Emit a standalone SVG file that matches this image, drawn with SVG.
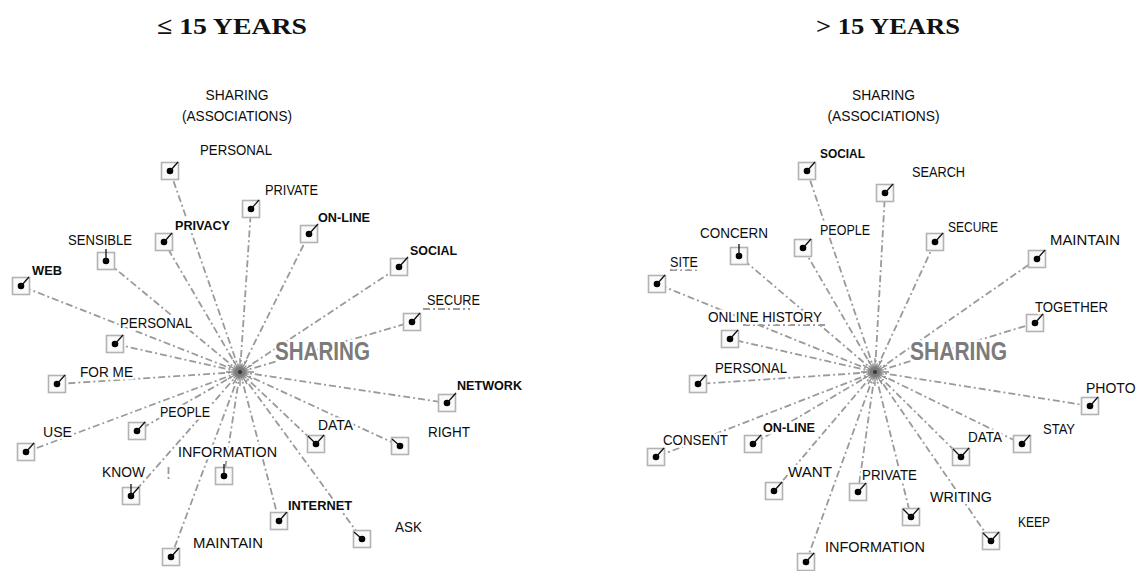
<svg xmlns="http://www.w3.org/2000/svg" xmlns:xlink="http://www.w3.org/1999/xlink" width="1139" height="571" viewBox="0 0 1139 571">
  <style>
    .title { font-family: "Liberation Serif", serif; font-weight: bold; font-size: 24px; fill: #111; }
    .lbl { font-family: "Liberation Sans", Arial, sans-serif; font-size: 14.5px; fill: #0d0d0d; stroke: #fff; stroke-width: 5; stroke-linejoin: round; paint-order: stroke; }
    .b { font-weight: bold; font-size: 13px; }
    .hdr { text-anchor: middle; stroke: none; }
    .big { font-family: "Liberation Sans", Arial, sans-serif; font-weight: bold; font-size: 25px; fill: #7b7b7b; stroke: #fff; stroke-width: 5; paint-order: stroke; }
    .edge { fill: none; stroke: #9a9a9a; stroke-width: 1.8; stroke-dasharray: 7 3 2 3; }
    .box { fill: #fafafa; stroke: #b3b3b3; stroke-width: 1.6; }
    .dot { fill: #000; }
    .tk { fill: none; stroke: #111; stroke-width: 1.3; }
    .ray { fill: none; stroke: #8a8a8a; stroke-width: 1.3; }
  </style>
  <defs>
    <g id="bx">
      <rect x="-8.5" y="-8.5" width="17" height="17" class="box"/>
      <circle r="3.3" class="dot"/>
    </g>
    <g id="hub">
      <path class="ray" d="M0 0L14 0M0 0L8.7 2.3M0 0L12.1 7M0 0L6.4 6.4M0 0L7 12.1M0 0L2.3 8.7M0 0L0 14M0 0L-2.3 8.7M0 0L-7 12.1M0 0L-6.4 6.4M0 0L-12.1 7M0 0L-8.7 2.3M0 0L-14 0M0 0L-8.7 -2.3M0 0L-12.1 -7M0 0L-6.4 -6.4M0 0L-7 -12.1M0 0L-2.3 -8.7M0 0L0 -14M0 0L2.3 -8.7M0 0L7 -12.1M0 0L6.4 -6.4M0 0L12.1 -7M0 0L8.7 -2.3"/>
      <circle r="5" fill="#777" opacity="0.8"/>
      <circle r="2" fill="#333"/>
    </g>
  </defs>

  <rect width="1139" height="571" fill="#fff"/>

  <!-- headings -->
  <text class="title" x="157" y="34" textLength="150" lengthAdjust="spacingAndGlyphs">≤ 15 YEARS</text>
  <text class="title" x="816" y="34" textLength="144" lengthAdjust="spacingAndGlyphs">&gt; 15 YEARS</text>

  <!-- connectors: age up to 15 -->
  <g id="connectors-left">
    <path class="edge" d="M240 372L170 171"/>
    <path class="edge" d="M240 372L251 209"/>
    <path class="edge" d="M240 372L164 242"/>
    <path class="edge" d="M240 372L106 261"/>
    <path class="edge" d="M240 372L21 286"/>
    <path class="edge" d="M240 372L309 234"/>
    <path class="edge" d="M240 372L399 267"/>
    <path class="edge" d="M240 372L412 322"/>
    <path class="edge" d="M240 372L115 344"/>
    <path class="edge" d="M240 372L57 384"/>
    <path class="edge" d="M240 372L447 403"/>
    <path class="edge" d="M240 372L137 431"/>
    <path class="edge" d="M240 372L26 452"/>
    <path class="edge" d="M240 372L316 444"/>
    <path class="edge" d="M240 372L400 446"/>
    <path class="edge" d="M240 372L224 476"/>
    <path class="edge" d="M240 372L131 496"/>
    <path class="edge" d="M240 372L279 521"/>
    <path class="edge" d="M240 372L362 539"/>
    <path class="edge" d="M240 372L171 557"/>
    <path class="edge" d="M423 309L470 309"/>
    <path class="edge" d="M168.5 467L168.5 479" stroke-dasharray="2 2"/>
  </g>

  <!-- connectors: age over 15 -->
  <g id="connectors-right">
    <path class="edge" d="M875 372L807 171"/>
    <path class="edge" d="M875 372L885 193"/>
    <path class="edge" d="M875 372L739 256"/>
    <path class="edge" d="M875 372L803 248"/>
    <path class="edge" d="M875 372L935 242"/>
    <path class="edge" d="M875 372L657 284"/>
    <path class="edge" d="M875 372L1037 259"/>
    <path class="edge" d="M875 372L1035 323"/>
    <path class="edge" d="M875 372L730 339"/>
    <path class="edge" d="M875 372L698 384"/>
    <path class="edge" d="M875 372L1090 406"/>
    <path class="edge" d="M875 372L656 457"/>
    <path class="edge" d="M875 372L753 444"/>
    <path class="edge" d="M875 372L961 457"/>
    <path class="edge" d="M875 372L1022 444"/>
    <path class="edge" d="M875 372L774 491"/>
    <path class="edge" d="M875 372L858 492"/>
    <path class="edge" d="M875 372L911 517"/>
    <path class="edge" d="M875 372L991 541"/>
    <path class="edge" d="M875 372L806 562"/>
    <path class="edge" d="M670 270L697 270" stroke-dasharray="4 3"/>
    <path class="edge" d="M743 325L827 325"/>
  </g>

  <!-- hub: up to 15 -->
  <g id="hub-left">
    <use xlink:href="#hub" x="240" y="372"/>
    <text class="big" x="275" y="360" textLength="95" lengthAdjust="spacingAndGlyphs">SHARING</text>
    <text class="lbl hdr" x="237" y="100" textLength="63" lengthAdjust="spacingAndGlyphs">SHARING</text>
    <text class="lbl hdr" x="237" y="121" textLength="110" lengthAdjust="spacingAndGlyphs">(ASSOCIATIONS)</text>
  </g>

  <!-- word nodes: up to 15 -->
  <g id="l-personal-1"><use xlink:href="#bx" x="170" y="171"/><path class="tk" d="M170 171l8 -9"/><text class="lbl" x="200" y="155" textLength="72" lengthAdjust="spacingAndGlyphs">PERSONAL</text></g>
  <g id="l-private"><use xlink:href="#bx" x="251" y="209"/><path class="tk" d="M251 209l8 -9"/><text class="lbl" x="265" y="195" textLength="53" lengthAdjust="spacingAndGlyphs">PRIVATE</text></g>
  <g id="l-privacy"><use xlink:href="#bx" x="164" y="242"/><path class="tk" d="M164 242l8 -9"/><text class="lbl b" x="175" y="230" textLength="55" lengthAdjust="spacingAndGlyphs">PRIVACY</text></g>
  <g id="l-sensible"><use xlink:href="#bx" x="106" y="261"/><path class="tk" d="M106 261v-12"/><text class="lbl" x="68" y="245" textLength="64" lengthAdjust="spacingAndGlyphs">SENSIBLE</text></g>
  <g id="l-web"><use xlink:href="#bx" x="21" y="286"/><path class="tk" d="M21 286l8 -9"/><text class="lbl b" x="32" y="275" textLength="30" lengthAdjust="spacingAndGlyphs">WEB</text></g>
  <g id="l-online"><use xlink:href="#bx" x="309" y="234"/><path class="tk" d="M309 234l9 -10"/><text class="lbl b" x="318" y="222" textLength="52" lengthAdjust="spacingAndGlyphs">ON-LINE</text></g>
  <g id="l-social"><use xlink:href="#bx" x="399" y="267"/><path class="tk" d="M399 267l9 -10"/><text class="lbl b" x="410" y="255" textLength="47" lengthAdjust="spacingAndGlyphs">SOCIAL</text></g>
  <g id="l-secure"><use xlink:href="#bx" x="412" y="322"/><path class="tk" d="M412 322l8 -9"/><text class="lbl" x="427" y="305" textLength="53" lengthAdjust="spacingAndGlyphs">SECURE</text></g>
  <g id="l-personal-2"><use xlink:href="#bx" x="115" y="344"/><path class="tk" d="M115 344l8 -9"/><text class="lbl" x="120" y="328" textLength="72" lengthAdjust="spacingAndGlyphs">PERSONAL</text></g>
  <g id="l-for-me"><use xlink:href="#bx" x="57" y="384"/><path class="tk" d="M57 384l8 -9"/><text class="lbl" x="80" y="377" textLength="53" lengthAdjust="spacingAndGlyphs">FOR ME</text></g>
  <g id="l-network"><use xlink:href="#bx" x="447" y="403"/><path class="tk" d="M447 403l9 -10"/><text class="lbl b" x="457" y="390" textLength="65" lengthAdjust="spacingAndGlyphs">NETWORK</text></g>
  <g id="l-people"><use xlink:href="#bx" x="137" y="431"/><path class="tk" d="M137 431l8 -9"/><text class="lbl" x="160" y="417" textLength="50" lengthAdjust="spacingAndGlyphs">PEOPLE</text></g>
  <g id="l-use"><use xlink:href="#bx" x="26" y="452"/><path class="tk" d="M26 452l8 -9"/><text class="lbl" x="43" y="437" textLength="29" lengthAdjust="spacingAndGlyphs">USE</text></g>
  <g id="l-data"><use xlink:href="#bx" x="316" y="444"/><path class="tk" d="M308 436l8 8l8 -9"/><text class="lbl" x="318" y="430" textLength="35" lengthAdjust="spacingAndGlyphs">DATA</text></g>
  <g id="l-right"><use xlink:href="#bx" x="400" y="446"/><path class="tk" d="M400 446l-8 -7"/><text class="lbl" x="428" y="437" textLength="42" lengthAdjust="spacingAndGlyphs">RIGHT</text></g>
  <g id="l-information"><use xlink:href="#bx" x="224" y="476"/><path class="tk" d="M224 476v-12"/><text class="lbl" x="178" y="457" textLength="99" lengthAdjust="spacingAndGlyphs">INFORMATION</text></g>
  <g id="l-know"><use xlink:href="#bx" x="131" y="496"/><path class="tk" d="M131 496v-12M131 496l8 -9"/><text class="lbl" x="102" y="477" textLength="43" lengthAdjust="spacingAndGlyphs">KNOW</text></g>
  <g id="l-internet"><use xlink:href="#bx" x="279" y="521"/><path class="tk" d="M279 521l8 -9"/><text class="lbl b" x="288" y="510" textLength="64" lengthAdjust="spacingAndGlyphs">INTERNET</text></g>
  <g id="l-ask"><use xlink:href="#bx" x="362" y="539"/><path class="tk" d="M362 539l-8 -7"/><text class="lbl" x="395" y="532" textLength="27" lengthAdjust="spacingAndGlyphs">ASK</text></g>
  <g id="l-maintain"><use xlink:href="#bx" x="171" y="557"/><path class="tk" d="M171 557l8 -9"/><text class="lbl" x="193" y="548" textLength="70" lengthAdjust="spacingAndGlyphs">MAINTAIN</text></g>

  <!-- hub: over 15 -->
  <g id="hub-right">
    <use xlink:href="#hub" x="875" y="372"/>
    <text class="big" x="910" y="360" textLength="97" lengthAdjust="spacingAndGlyphs">SHARING</text>
    <text class="lbl hdr" x="883.5" y="100" textLength="63" lengthAdjust="spacingAndGlyphs">SHARING</text>
    <text class="lbl hdr" x="883.5" y="121" textLength="112" lengthAdjust="spacingAndGlyphs">(ASSOCIATIONS)</text>
  </g>

  <!-- word nodes: over 15 -->
  <g id="r-social"><use xlink:href="#bx" x="807" y="171"/><path class="tk" d="M807 171l8 -9"/><text class="lbl b" x="820" y="158" textLength="45" lengthAdjust="spacingAndGlyphs">SOCIAL</text></g>
  <g id="r-search"><use xlink:href="#bx" x="885" y="193"/><path class="tk" d="M885 193l8 -9"/><text class="lbl" x="912" y="177" textLength="53" lengthAdjust="spacingAndGlyphs">SEARCH</text></g>
  <g id="r-concern"><use xlink:href="#bx" x="739" y="256"/><path class="tk" d="M739 256v-12"/><text class="lbl" x="700" y="238" textLength="68" lengthAdjust="spacingAndGlyphs">CONCERN</text></g>
  <g id="r-people"><use xlink:href="#bx" x="803" y="248"/><path class="tk" d="M803 248l8 -9"/><text class="lbl" x="820" y="235" textLength="50" lengthAdjust="spacingAndGlyphs">PEOPLE</text></g>
  <g id="r-secure"><use xlink:href="#bx" x="935" y="242"/><path class="tk" d="M935 242l8 -9"/><text class="lbl" x="948" y="232" textLength="50" lengthAdjust="spacingAndGlyphs">SECURE</text></g>
  <g id="r-site"><use xlink:href="#bx" x="657" y="284"/><path class="tk" d="M657 284l8 -9"/><text class="lbl" x="670" y="267" textLength="28" lengthAdjust="spacingAndGlyphs">SITE</text></g>
  <g id="r-maintain"><use xlink:href="#bx" x="1037" y="259"/><path class="tk" d="M1037 259l8 -9"/><text class="lbl" x="1050" y="245" textLength="70" lengthAdjust="spacingAndGlyphs">MAINTAIN</text></g>
  <g id="r-together"><use xlink:href="#bx" x="1035" y="323"/><path class="tk" d="M1035 323l8 -9"/><text class="lbl" x="1035" y="312" textLength="73" lengthAdjust="spacingAndGlyphs">TOGETHER</text></g>
  <g id="r-online-history"><use xlink:href="#bx" x="730" y="339"/><path class="tk" d="M730 339l8 -9"/><text class="lbl" x="708" y="322" textLength="114" lengthAdjust="spacingAndGlyphs">ONLINE HISTORY</text></g>
  <g id="r-personal"><use xlink:href="#bx" x="698" y="384"/><path class="tk" d="M698 384l8 -9"/><text class="lbl" x="715" y="373" textLength="72" lengthAdjust="spacingAndGlyphs">PERSONAL</text></g>
  <g id="r-photo"><use xlink:href="#bx" x="1090" y="406"/><path class="tk" d="M1090 406l8 -9"/><text class="lbl" x="1086" y="393" style="font-size:14px">PHOTO</text></g>
  <g id="r-consent"><use xlink:href="#bx" x="656" y="457"/><path class="tk" d="M656 457l8 -9"/><text class="lbl" x="663" y="445" textLength="65" lengthAdjust="spacingAndGlyphs">CONSENT</text></g>
  <g id="r-online"><use xlink:href="#bx" x="753" y="444"/><path class="tk" d="M753 444l8 -9"/><text class="lbl b" x="763" y="432" textLength="52" lengthAdjust="spacingAndGlyphs">ON-LINE</text></g>
  <g id="r-data"><use xlink:href="#bx" x="961" y="457"/><path class="tk" d="M953 449l8 8l8 -9"/><text class="lbl" x="968" y="442" textLength="34" lengthAdjust="spacingAndGlyphs">DATA</text></g>
  <g id="r-stay"><use xlink:href="#bx" x="1022" y="444"/><path class="tk" d="M1022 444l8 -9"/><text class="lbl" x="1043" y="434" textLength="32" lengthAdjust="spacingAndGlyphs">STAY</text></g>
  <g id="r-want"><use xlink:href="#bx" x="774" y="491"/><path class="tk" d="M774 491l8 -9"/><text class="lbl" x="788" y="477" textLength="44" lengthAdjust="spacingAndGlyphs">WANT</text></g>
  <g id="r-private"><use xlink:href="#bx" x="858" y="492"/><path class="tk" d="M858 492l8 -9"/><text class="lbl" x="862" y="480" textLength="55" lengthAdjust="spacingAndGlyphs">PRIVATE</text></g>
  <g id="r-writing"><use xlink:href="#bx" x="911" y="517"/><path class="tk" d="M903 509l8 8l8 -9"/><text class="lbl" x="930" y="502" textLength="62" lengthAdjust="spacingAndGlyphs">WRITING</text></g>
  <g id="r-keep"><use xlink:href="#bx" x="991" y="541"/><path class="tk" d="M983 533l8 8l8 -9"/><text class="lbl" x="1018" y="527" textLength="32" lengthAdjust="spacingAndGlyphs">KEEP</text></g>
  <g id="r-information"><use xlink:href="#bx" x="806" y="562"/><path class="tk" d="M806 562l8 -9"/><text class="lbl" x="825" y="552" textLength="100" lengthAdjust="spacingAndGlyphs">INFORMATION</text></g>
</svg>
